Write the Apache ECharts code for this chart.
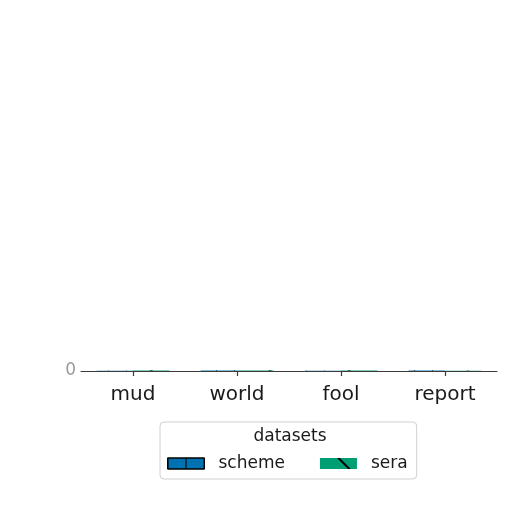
<!DOCTYPE html>
<html>
<head>
<meta charset="utf-8">
<script src="https://cdn.jsdelivr.net/npm/echarts@6/dist/echarts.min.js"></script>
<style>
html,body{margin:0;padding:0;background:#fff;}
#chart{width:512px;height:512px;}
</style>
</head>
<body>
<div id="chart"></div>
<script>
const categories = ['mud', 'world', 'fool', 'report'];
const schemeValues = [1, 1.5, 1, 1.5];
const seraValues = [1.5, 2, 1.5, 1];
const seriesNames = ['scheme', 'sera'];
const yTicks = [0, 10];

const chart = echarts.init(document.getElementById('chart'), null, {renderer: 'canvas'});
const font = 'DejaVu Sans';
const schemeDecal = {symbol: 'rect', symbolSize: 1, dashArrayX: [[1, 17]], dashArrayY: [20, 0], color: '#000000', rotation: 0};
const seraDecal = {symbol: 'rect', symbolSize: 1, dashArrayX: [[1, 0]], dashArrayY: [0, 14, 1.2, 12], color: '#000000', rotation: Math.PI / 4};
chart.setOption({
  animation: false,
  backgroundColor: '#ffffff',
  grid: {left: 81, right: 15, top: 368, bottom: 141, containLabel: false},
  xAxis: {
    type: 'category',
    data: categories,
    axisLine: {show: true, lineStyle: {color: '#3a3a3a', width: 1.2}},
    axisTick: {show: true, alignWithLabel: true, length: 5, lineStyle: {color: '#3a3a3a', width: 1.2}},
    axisLabel: {color: '#1a1a1a', fontSize: 20, fontFamily: font, margin: 14},
    splitLine: {show: false}
  },
  yAxis: {
    type: 'value',
    min: yTicks[0],
    max: yTicks[yTicks.length - 1],
    interval: yTicks[1] - yTicks[0],
    axisLine: {show: false},
    axisTick: {show: false},
    splitLine: {show: false},
    axisLabel: {
      hideOverlap: false,
      formatter: function (v) { return v === yTicks[0] ? String(v) : ''; },
      color: '#9a9a9a', fontSize: 17, fontFamily: font, margin: 5, padding: [4, 0, 0, 0]
    }
  },
  legend: {
    left: 160,
    top: 422,
    padding: [33, 9, 7, 7],
    itemGap: 35,
    itemWidth: 37,
    itemHeight: 11,
    icon: 'rect',
    borderColor: '#d0d0d0',
    borderWidth: 1,
    borderRadius: 4,
    backgroundColor: '#ffffff',
    textStyle: {fontSize: 17, fontFamily: font, color: '#1a1a1a', padding: [0, 0, 0, 9]},
    data: [
      {name: seriesNames[0], icon: 'rect', itemStyle: {color: '#0072B2', opacity: 1, borderColor: '#000000', borderWidth: 1, decal: schemeDecal}},
      {name: seriesNames[1], icon: 'rect', itemStyle: {color: '#009E73', opacity: 1, borderWidth: 0, decal: seraDecal}}
    ]
  },
  graphic: [{
    type: 'text',
    x: 290, y: 437,
    style: {text: 'datasets', fontSize: 17, fontFamily: font, fill: '#1a1a1a', align: 'center', verticalAlign: 'middle'},
    z: 100
  }],
  series: [
    {
      name: seriesNames[0], type: 'bar', data: schemeValues, barWidth: '35%', barGap: '0%',
      itemStyle: {color: '#0072B2', decal: schemeDecal}
    },
    {
      name: seriesNames[1], type: 'bar', data: seraValues, barWidth: '35%',
      itemStyle: {color: '#009E73', decal: seraDecal}
    }
  ]
});
</script>
</body>
</html>
